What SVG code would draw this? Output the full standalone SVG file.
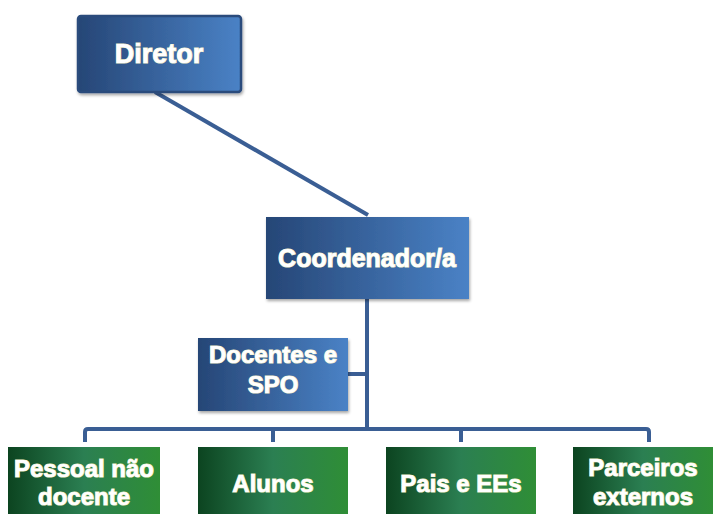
<svg xmlns="http://www.w3.org/2000/svg" width="715" height="514" viewBox="0 0 715 514">
<defs>
<linearGradient id="gBlue" x1="0" y1="0" x2="1" y2="0">
<stop offset="0" stop-color="#264676"/>
<stop offset="1" stop-color="#4a82c6"/>
</linearGradient>
<linearGradient id="gGreen" x1="0" y1="0" x2="1" y2="0">
<stop offset="0" stop-color="#0c4420"/>
<stop offset="0.5" stop-color="#2b7f52"/>
<stop offset="1" stop-color="#2f8e36"/>
</linearGradient>
<filter id="sh" x="-10%" y="-10%" width="130%" height="130%">
<feDropShadow dx="1" dy="2" stdDeviation="1.5" flood-color="#000" flood-opacity="0.35"/>
</filter>
</defs>
<style>
.blue{fill:url(#gBlue);}
.green{fill:url(#gGreen);}
.lbl{font-family:"Liberation Sans",Arial,sans-serif;font-weight:bold;font-size:24px;fill:#ffffff;text-anchor:middle;stroke:#f3efc9;stroke-width:1.2;paint-order:stroke;}
.con{fill:none;stroke:#3a5e94;stroke-width:4;stroke-linejoin:round;}
</style>
<rect width="715" height="514" fill="#ffffff"/>
<g id="connectors">
<line class="con" x1="155" y1="92" x2="368" y2="215"/>
<line class="con" x1="367" y1="299" x2="367" y2="429"/>
<line class="con" x1="348" y1="374" x2="367" y2="374"/>
<path class="con" d="M85 442 V432 Q85 429 88 429 H646 Q649 429 649 432 V442"/>
<line class="con" x1="273" y1="429" x2="273" y2="442"/>
<line class="con" x1="461" y1="429" x2="461" y2="442"/>
</g>
<g id="diretor">
<rect class="blue" x="78" y="16" width="163" height="76" rx="3" stroke="#2c4c7c" stroke-width="2.5" filter="url(#sh)"/>
<text class="lbl" x="159" y="63" style="font-size:27px">Diretor</text>
</g>
<g id="coordenador">
<rect class="blue" x="266" y="217" width="203" height="82" filter="url(#sh)"/>
<text class="lbl" x="367" y="267" style="font-size:25px">Coordenador/a</text>
</g>
<g id="docentes">
<rect class="blue" x="198" y="338" width="150" height="73" filter="url(#sh)"/>
<text class="lbl" x="273" y="363">Docentes e</text>
<text class="lbl" x="273" y="393">SPO</text>
</g>
<g id="pessoal">
<rect class="green" x="8" y="447" width="152" height="70"/>
<text class="lbl" x="84" y="477">Pessoal não</text>
<text class="lbl" x="84" y="505">docente</text>
</g>
<g id="alunos">
<rect class="green" x="198" y="447" width="150" height="70"/>
<text class="lbl" x="273" y="492">Alunos</text>
</g>
<g id="pais">
<rect class="green" x="386" y="447" width="150" height="70"/>
<text class="lbl" x="461" y="492">Pais e EEs</text>
</g>
<g id="parceiros">
<rect class="green" x="573" y="447" width="140" height="70"/>
<text class="lbl" x="643" y="476">Parceiros</text>
<text class="lbl" x="643" y="505">externos</text>
</g>
</svg>
